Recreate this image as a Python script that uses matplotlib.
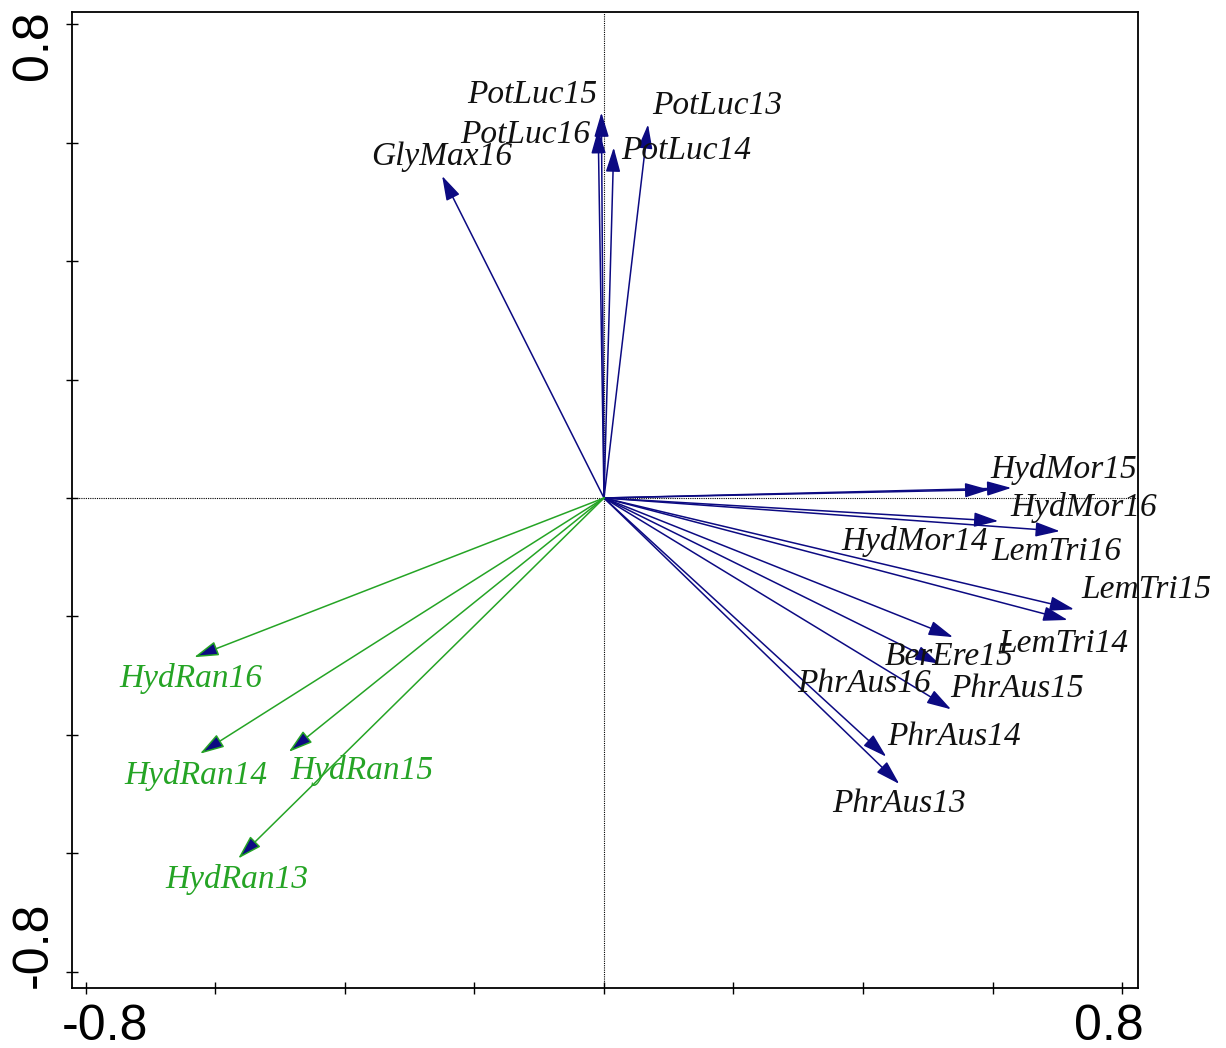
import matplotlib
matplotlib.use("Agg")
import matplotlib.pyplot as plt
from matplotlib import font_manager
import numpy as np

# Species arrow tips (axis 1, axis 2)
species = ["PotLuc15", "PotLuc16", "PotLuc14", "PotLuc13", "GlyMax16",
           "HydMor15", "HydMor14", "HydMor16", "LemTri16", "LemTri15",
           "LemTri14", "BerEre15", "PhrAus16", "PhrAus15", "PhrAus14",
           "PhrAus13"]
species_x = [-0.004, -0.009, 0.015, 0.068, -0.250,
             0.629, 0.595, 0.704, 0.609, 0.726,
             0.716, 0.539, 0.518, 0.536, 0.436,
             0.456]
species_y = [0.651, 0.623, 0.592, 0.631, 0.544,
             0.017, 0.014, -0.056, -0.039, -0.188,
             -0.206, -0.235, -0.280, -0.357, -0.437,
             -0.483]

# Explanatory (green) arrow tips
env = ["HydRan16", "HydRan14", "HydRan15", "HydRan13"]
env_x = [-0.633, -0.624, -0.487, -0.565]
env_y = [-0.269, -0.432, -0.429, -0.609]

# Label anchors (left edge, baseline) in axis units
species_lx = [-0.212, -0.222, 0.027, 0.074, -0.360,
              0.596, 0.367, 0.627, 0.598, 0.738,
              0.609, 0.434, 0.298, 0.535, 0.437,
              0.352]
species_ly = [0.667, 0.600, 0.572, 0.649, 0.5625,
              0.034, -0.088, -0.030, -0.105, -0.169,
              -0.260, -0.282, -0.327, -0.336, -0.417,
              -0.530]
env_lx = [-0.749, -0.740, -0.485, -0.678]
env_ly = [-0.319, -0.483, -0.475, -0.659]

NAVY = "#0c0a82"
GREEN = "#25a425"

installed = {f.name for f in font_manager.fontManager.ttflist}
NUM_FAMILY = "Liberation Sans Narrow" if "Liberation Sans Narrow" in installed else "Liberation Sans"

fig = plt.figure(figsize=(12.26, 10.48), dpi=100)
ax = fig.add_axes([72 / 1226, 1 - 988 / 1048, (1138 - 72) / 1226, (988 - 12) / 1048])
ax.set_xlim(-0.8216, 0.8247)
ax.set_ylim(-0.8277, 0.8209)

# Dotted zero lines
ax.axhline(0, color="black", lw=0.8, ls=(0, (1, 1)), zorder=1)
ax.axvline(0, color="black", lw=0.8, ls=(0, (1, 1)), zorder=1)

style = "-|>,head_length=1.5,head_width=0.45"

def arrow(x, y, line_color, head_color):
    ax.annotate("", xy=(x, y), xytext=(0, 0),
                arrowprops=dict(arrowstyle=style, mutation_scale=10,
                                ec=line_color, fc=head_color, lw=1.1,
                                shrinkA=0, shrinkB=0), zorder=3)

for x, y in zip(species_x, species_y):
    arrow(x, y, NAVY, NAVY)
for x, y in zip(env_x, env_y):
    arrow(x, y, GREEN, NAVY)

lab_font = dict(family="Liberation Serif", style="italic", fontsize=24)
for name, lx, ly in zip(species, species_lx, species_ly):
    ax.text(lx, ly, name, color="#111111", ha="left", va="baseline", zorder=4, **lab_font)
for name, lx, ly in zip(env, env_lx, env_ly):
    ax.text(lx, ly, name, color=GREEN, ha="left", va="baseline", zorder=4, **lab_font)

# Axes frame and ticks
for s in ax.spines.values():
    s.set_linewidth(1.3)
    s.set_color("black")
ticks = np.round(np.arange(-0.8, 0.81, 0.2), 2)
ax.set_xticks(ticks)
ax.set_yticks(ticks)
ax.set_xticklabels([])
ax.set_yticklabels([])
ax.tick_params(direction="inout", length=8, width=1.0, color="black")

num_font = dict(family=NUM_FAMILY, fontsize=36, color="black")
xt = ax.get_xaxis_transform()
yt = ax.get_yaxis_transform()
ax.text(-0.77, -0.04, "-0.8", transform=xt, ha="center", va="center", **num_font)
ax.text(0.78, -0.04, "0.8", transform=xt, ha="center", va="center", **num_font)
ax.text(-0.036, 0.765, "0.8", transform=yt, ha="center", va="center", rotation=90, **num_font)
ax.text(-0.036, -0.755, "-0.8", transform=yt, ha="center", va="center", rotation=90, **num_font)

fig.savefig("out.png", dpi=100)
